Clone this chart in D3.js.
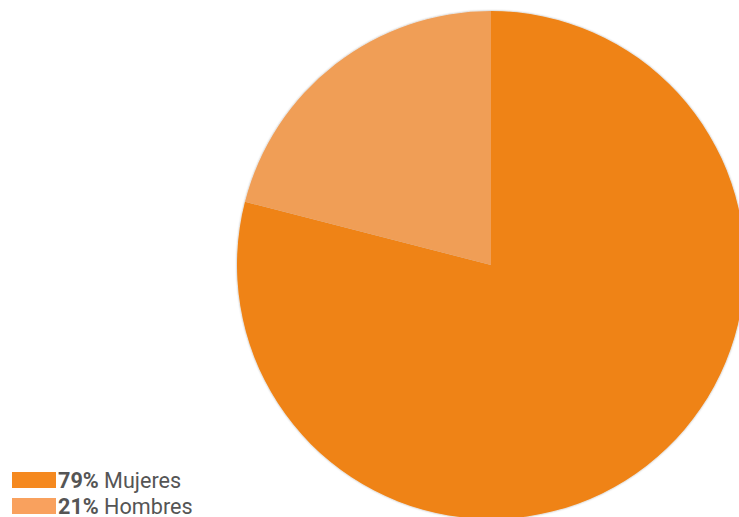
<!DOCTYPE html>
<html><head><meta charset="utf-8">
<script src="https://cdn.jsdelivr.net/npm/d3@7"></script>
<style>html,body{margin:0;padding:0;background:#fff;overflow:hidden}</style>
</head><body>
<svg id="c" width="739" height="517"></svg>
<script>
const categories = ["Mujeres", "Hombres"];
const values = [79, 21];
const labels = ["79%", "21%"];
const colors = ["#EF8315", "#F09E57"];
const legendColors = ["#F5891F", "#F9A15E"];

const svg = d3.select("#c");
const defs = svg.append("defs");
const f = defs.append("filter").attr("id","sh").attr("x","-5%").attr("y","-5%").attr("width","110%").attr("height","110%");
f.append("feDropShadow").attr("dx",0).attr("dy",0).attr("stdDeviation",1).attr("flood-color","#000").attr("flood-opacity",0.35);

const cx = 491, cy = 265, r = 254;
const pie = d3.pie().sort(null).value(d => d)(values);
const arc = d3.arc().innerRadius(0).outerRadius(r);
const g = svg.append("g").attr("transform", `translate(${cx},${cy})`).attr("filter","url(#sh)");
g.selectAll("path").data(pie).join("path").attr("d", arc).attr("fill", (d,i) => colors[i]);

const lg = svg.append("g").attr("font-family","Roboto, sans-serif").attr("font-size",21.6);
categories.forEach((c,i) => {
  const y = 472 + i*26;
  lg.append("rect").attr("x",12).attr("y",y).attr("width",44).attr("height",16).attr("fill",legendColors[i]);
  const t = lg.append("text").attr("x",58).attr("y",y+15.5).attr("fill","#555");
  t.append("tspan").attr("font-weight","bold").text(labels[i]);
  t.append("tspan").text(" " + c);
});
</script>
</body></html>
